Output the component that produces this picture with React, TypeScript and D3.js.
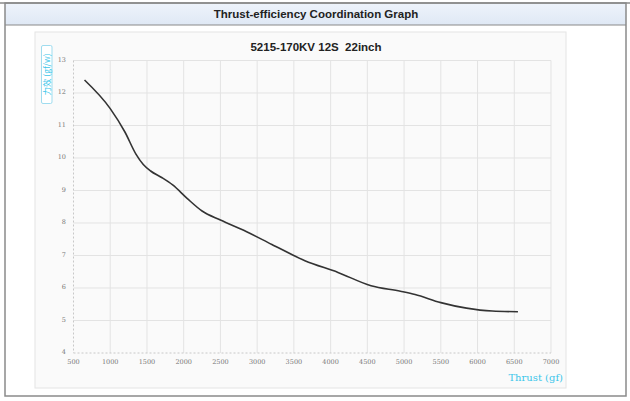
import React, { useEffect, useRef } from 'react';
import * as d3 from 'd3';

// thrust (gf) vs efficiency (gf/W)
const thrust = [650, 1000, 1200, 1350, 1450, 1550, 1700, 1850, 2050, 2250, 2500, 2850, 3200, 3650, 4100, 4550, 4950, 5150, 5500, 5850, 6200, 6550];
const efficiency = [12.4, 11.52, 10.8, 10.12, 9.8, 9.6, 9.4, 9.17, 8.75, 8.37, 8.09, 7.74, 7.34, 6.84, 6.48, 6.07, 5.9, 5.8, 5.55, 5.38, 5.29, 5.27];

const xTicks = [500, 1000, 1500, 2000, 2500, 3000, 3500, 4000, 4500, 5000, 5500, 6000, 6500, 7000];
const yTicks = [4, 5, 6, 7, 8, 9, 10, 11, 12, 13];

const headerTitle = 'Thrust-efficiency Coordination Graph';
const chartTitle = '5215-170KV 12S  22inch';
const yLabel = '力效 (gf/w)';
const xLabel = 'Thrust (gf)';

const App: React.FC = () => {
  const svgRef = useRef<SVGSVGElement>(null);

  useEffect(() => {
    if (!svgRef.current) return;
    const width = 630;
    const height = 401;
    const svg = d3.select(svgRef.current);
    svg.selectAll('*').remove();

    // --- page frame ---
    svg.append('rect').attr('x', 0).attr('y', 0).attr('width', width).attr('height', height).attr('fill', '#fff');
    const grad = svg.append('defs').append('linearGradient').attr('id', 'hdr').attr('x1', 0).attr('y1', 0).attr('x2', 0).attr('y2', 1);
    grad.append('stop').attr('offset', '0%').attr('stop-color', '#eef3fb');
    grad.append('stop').attr('offset', '100%').attr('stop-color', '#dfe8f5');
    svg.append('rect').attr('x', 5).attr('y', 3).attr('width', 621).attr('height', 22).attr('fill', 'url(#hdr)');
    svg.append('line').attr('x1', 0).attr('x2', width).attr('y1', 3).attr('y2', 3).attr('stroke', '#8a8a8a').attr('stroke-width', 1.5);
    svg.append('line').attr('x1', 5).attr('x2', 626).attr('y1', 25).attr('y2', 25).attr('stroke', '#8a8a8a').attr('stroke-width', 1.2);
    svg.append('rect').attr('x', 5).attr('y', 3).attr('width', 621).attr('height', 393)
      .attr('fill', 'none').attr('stroke', '#8a8a8a').attr('stroke-width', 1.5);
    svg.append('text').attr('x', 316).attr('y', 18).attr('text-anchor', 'middle')
      .attr('font-family', 'Liberation Sans, Arial, sans-serif').attr('font-weight', 'bold').attr('font-size', 11.5)
      .attr('fill', '#222').text(headerTitle);

    // --- chart panel ---
    svg.append('rect').attr('x', 35).attr('y', 32).attr('width', 531).attr('height', 356)
      .attr('fill', '#fafafa').attr('stroke', '#e4e4e4');
    svg.append('text').attr('x', 316).attr('y', 51).attr('text-anchor', 'middle')
      .attr('font-family', 'Liberation Sans, Arial, sans-serif').attr('font-weight', 'bold').attr('font-size', 11.5)
      .attr('fill', '#222').attr('xml:space', 'preserve').style('white-space', 'pre').text(chartTitle);

    const x = d3.scaleLinear().domain([500, 7000]).range([73.5, 551]);
    const y = d3.scaleLinear().domain([4, 13]).range([353, 60.5]);

    const g = svg.append('g');
    // grid
    g.selectAll('.vg').data(xTicks.slice(1)).enter().append('line')
      .attr('x1', d => x(d)).attr('x2', d => x(d)).attr('y1', y(13)).attr('y2', y(4))
      .attr('stroke', '#e3e3e3').attr('stroke-width', 1);
    g.selectAll('.hg').data(yTicks.slice(1)).enter().append('line')
      .attr('x1', x(500)).attr('x2', x(7000)).attr('y1', d => y(d)).attr('y2', d => y(d))
      .attr('stroke', '#e3e3e3').attr('stroke-width', 1);
    // axes (dashed)
    g.append('line').attr('x1', x(500)).attr('x2', x(500)).attr('y1', y(13)).attr('y2', y(4))
      .attr('stroke', '#c8c8c8').attr('stroke-dasharray', '2,2');
    g.append('line').attr('x1', x(500)).attr('x2', x(7000)).attr('y1', y(4)).attr('y2', y(4))
      .attr('stroke', '#c8c8c8').attr('stroke-dasharray', '2,2');

    const tickFont = 'DejaVu Serif, Liberation Serif, serif';
    g.selectAll('.xl').data(xTicks).enter().append('text')
      .attr('x', d => x(d)).attr('y', 364).attr('text-anchor', 'middle')
      .attr('font-family', tickFont).attr('font-size', 6.5).attr('fill', '#777').text(d => String(d));
    g.selectAll('.yl').data(yTicks).enter().append('text')
      .attr('x', 66).attr('y', d => y(d) + 1).attr('text-anchor', 'end')
      .attr('font-family', tickFont).attr('font-size', 6.5).attr('fill', '#777').text(d => String(d));

    // y label box
    svg.append('rect').attr('x', 41.5).attr('y', 45.5).attr('width', 10.5).attr('height', 58).attr('rx', 1.5)
      .attr('fill', '#fff').attr('stroke', '#9fdcef');
    svg.append('text').attr('transform', 'translate(50,74.5) rotate(-90)').attr('text-anchor', 'middle')
      .attr('font-family', 'Noto Sans CJK SC, sans-serif').attr('font-size', 8.5).attr('fill', '#3cc6ea').text(yLabel);
    // x label
    svg.append('text').attr('x', 563).attr('y', 381).attr('text-anchor', 'end')
      .attr('font-family', 'DejaVu Serif, serif').attr('font-size', 10).attr('fill', '#3cc6ea').text(xLabel);

    // curve
    const pts = thrust.map((t, i) => [t, efficiency[i]] as [number, number]);
    const line = d3.line<[number, number]>().x(d => x(d[0])).y(d => y(d[1])).curve(d3.curveMonotoneX);
    g.append('path').datum(pts).attr('fill', 'none').attr('stroke', '#333').attr('stroke-width', 1.6).attr('d', line);
  }, []);

  return (
    <svg ref={svgRef} width={630} height={401} style={{ position: 'absolute', left: 0, top: 0 }} />
  );
};

export default App;
